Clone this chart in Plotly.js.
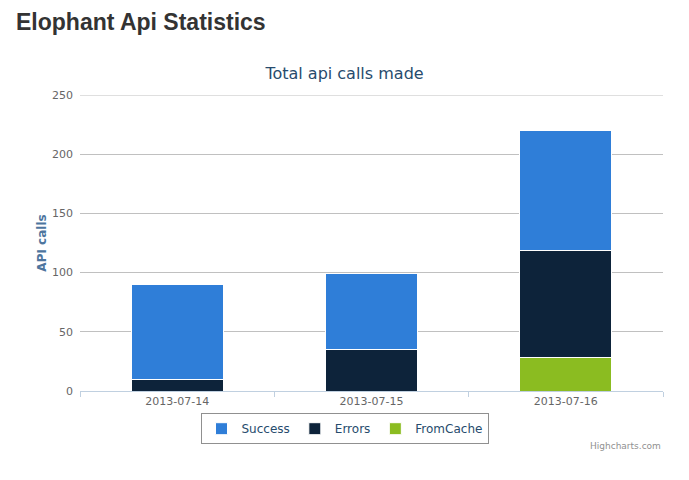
<!DOCTYPE html>
<html>
<head>
<meta charset="utf-8">
<script src="https://cdn.plot.ly/plotly-3.0.1.min.js"></script>
<style>
  html, body { margin: 0; padding: 0; background: #fff; width: 689px; height: 480px; overflow: hidden; }
  #heading { position: absolute; left: 16px; top: 9px; margin: 0; font-family: "Liberation Sans", Arial, sans-serif; font-weight: bold; font-size: 23px; color: #333; z-index: 2; }
  #chart { position: absolute; left: 0; top: 0; width: 689px; height: 480px; }
</style>
</head>
<body>
<h1 id="heading">Elophant Api Statistics</h1>
<div id="chart"></div>
<script>
const categories = ["2013-07-14", "2013-07-15", "2013-07-16"];
const successCalls = [80, 64, 101];
const errorCalls = [10, 35, 91];
const fromCacheCalls = [0, 0, 28];
const yTicks = [0, 50, 100, 150, 200, 250];

const font = '"DejaVu Sans", Verdana, sans-serif';
const lineStyle = { color: '#ffffff', width: 1 };

const traces = [
  { type: 'bar', name: 'FromCache', x: categories, y: fromCacheCalls, marker: { color: '#8bbc21', line: lineStyle }, legendrank: 3 },
  { type: 'bar', name: 'Errors', x: categories, y: errorCalls, marker: { color: '#0d233a', line: lineStyle }, legendrank: 2 },
  { type: 'bar', name: 'Success', x: categories, y: successCalls, marker: { color: '#2f7ed8', line: lineStyle }, legendrank: 1 }
];

const yMax = yTicks[yTicks.length - 1];

const layout = {
  width: 689, height: 480,
  margin: { l: 80, r: 26, t: 95, b: 89 },
  paper_bgcolor: 'rgba(0,0,0,0)',
  plot_bgcolor: '#ffffff',
  barmode: 'stack',
  bargap: 0.525,
  font: { family: font, color: '#666666', size: 11 },
  title: { text: 'Total api calls made', font: { family: font, size: 16, color: '#274b6d' }, x: 0.5, xanchor: 'center', y: 1 - 73/480, yanchor: 'middle' },
  xaxis: {
    type: 'category',
    showgrid: false,
    showline: true, linecolor: '#C0D0E0', linewidth: 1,
    ticks: 'outside', tickson: 'boundaries', ticklen: 5, tickcolor: '#C0D0E0',
    tickfont: { family: font, size: 11, color: '#666666' },
    fixedrange: true
  },
  yaxis: {
    range: [0, yMax],
    tickvals: yTicks,
    showgrid: true, gridcolor: '#C0C0C0', gridwidth: 1,
    zeroline: false, showline: false,
    ticks: '', ticklabelstandoff: 6,
    tickfont: { family: font, size: 11, color: '#666666' },
    title: { text: '<b>API calls</b>', font: { family: font, size: 12, color: '#4d759e' }, standoff: 2 }
  },
  shapes: [
    { type: 'line', xref: 'paper', yref: 'y', x0: 0, x1: 1, y0: yMax, y1: yMax, line: { color: '#C0C0C0', width: 1 }, layer: 'below' }
  ],
  showlegend: true,
  legend: {
    orientation: 'h',
    x: (344.5 - 80) / 583, xanchor: 'center',
    y: -0.075, yanchor: 'top',
    bordercolor: '#909090', borderwidth: 1,
    bgcolor: '#ffffff',
    itemwidth: 30,
    font: { family: font, size: 12, color: '#274b6d' },
    traceorder: 'normal'
  },
  annotations: [
    { text: 'Highcharts.com', xref: 'paper', yref: 'paper', x: 1, y: (391 - 446) / 296, xanchor: 'right', yanchor: 'middle', showarrow: false, font: { family: font, size: 9, color: '#909090' } }
  ]
};

Plotly.newPlot('chart', traces, layout, { displayModeBar: false, staticPlot: true });
</script>
</body>
</html>
